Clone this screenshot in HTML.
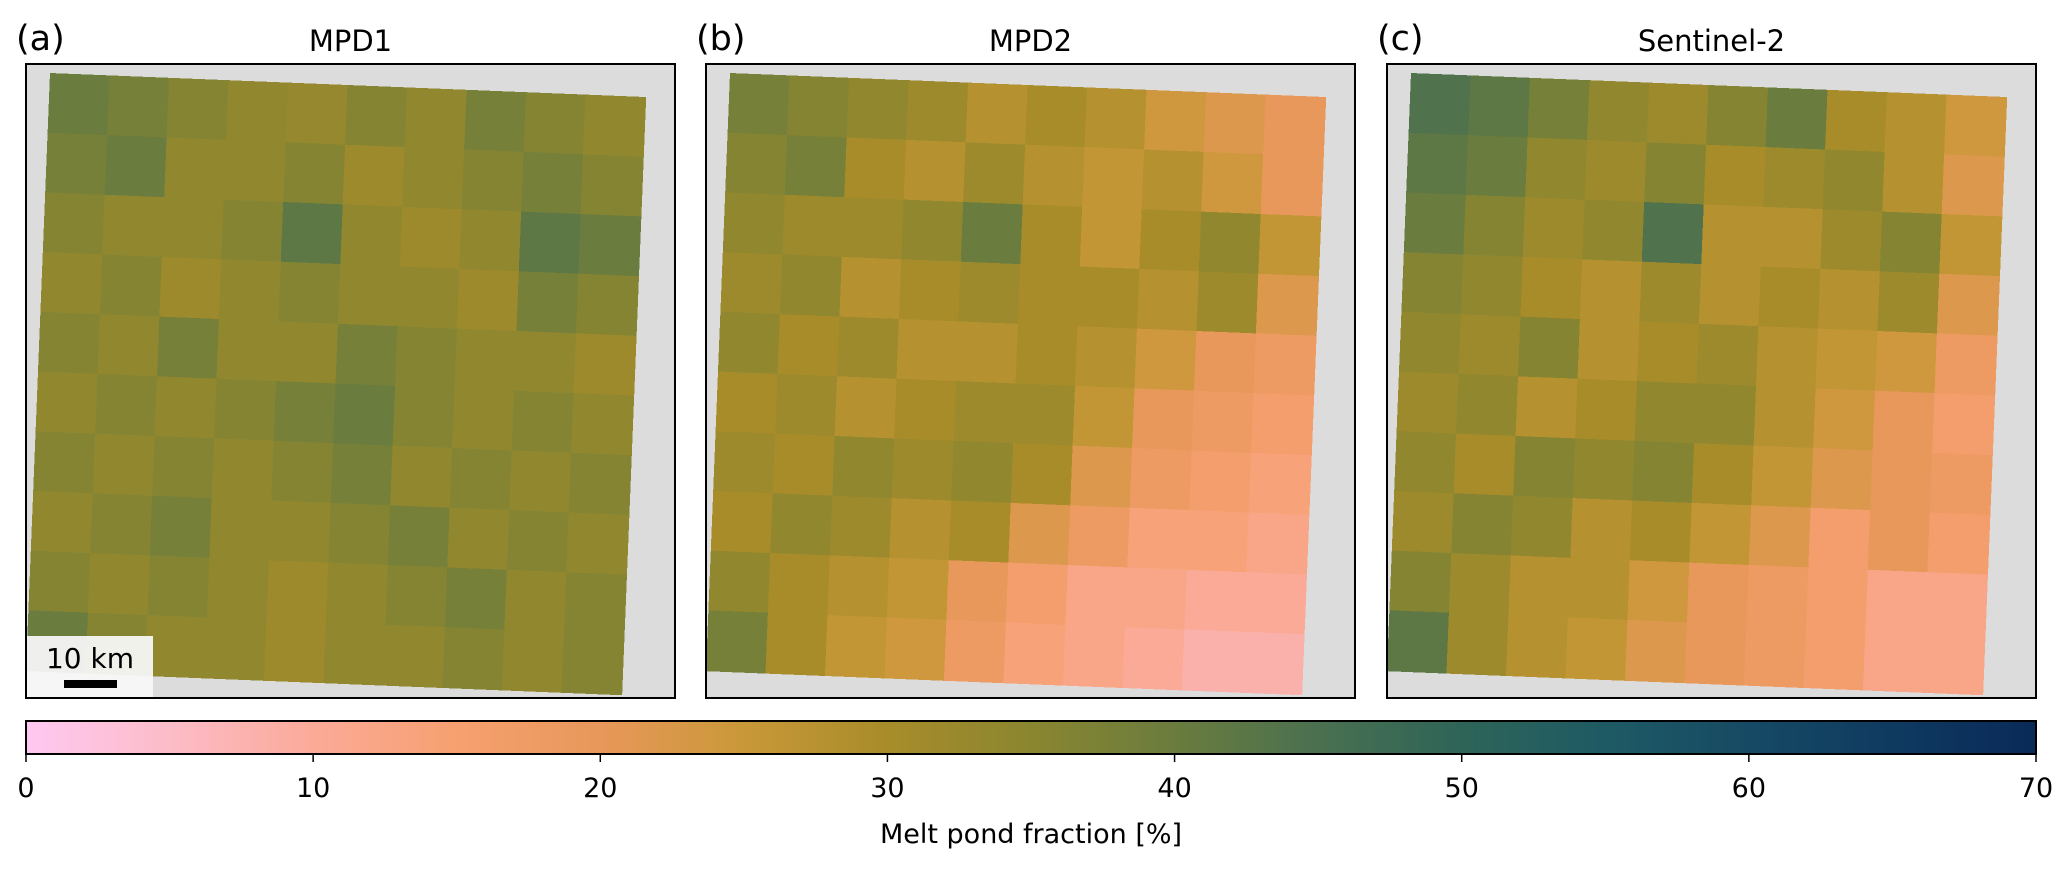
<!DOCTYPE html>
<html><head><meta charset="utf-8">
<style>
body{margin:0;background:#fff;}
svg{display:block;font-family:"DejaVu Sans","Liberation Sans",sans-serif;}
</style></head>
<body>
<svg id="fig" width="2067" height="872" viewBox="0 0 2067 872"></svg>
<script>
// ---- data ----
const panelTitles = ["MPD1", "MPD2", "Sentinel-2"];
const panelLetters = ["(a)", "(b)", "(c)"];
const gridA = [
[40,38,36,34,33,36,34,38,36,34],
[38,40,34,34,36,32,34,36,38,36],
[36,34,34,36,42,34,32,34,42,40],
[34,36,32,34,36,34,34,32,38,36],
[36,34,38,34,34,38,36,34,34,32],
[34,36,34,36,38,40,36,34,36,34],
[36,34,36,34,36,38,34,36,34,36],
[34,36,38,34,34,36,38,34,36,34],
[36,34,36,34,32,34,36,38,34,36],
[40,36,34,34,32,34,34,36,34,36]];
const gridB = [
[38,36,34,32,28,30,28,24,22,20],
[36,38,30,28,32,28,26,28,24,20],
[34,32,32,34,40,30,26,30,34,26],
[32,34,28,30,32,30,30,28,32,22],
[34,30,32,28,28,30,28,24,20,18],
[30,32,28,30,32,32,26,20,18,16],
[32,30,34,32,34,30,22,18,16,14],
[30,34,32,28,30,22,18,14,14,12],
[34,30,28,26,20,16,12,12,10,10],
[38,30,26,24,18,14,12,10,8,8]];
const gridC = [
[44,42,38,34,32,36,40,30,28,24],
[42,40,34,32,36,30,32,34,28,22],
[40,36,32,34,44,28,28,32,36,26],
[36,34,30,28,32,28,30,28,32,22],
[34,32,36,28,30,32,28,26,24,18],
[32,34,28,30,34,34,28,24,20,16],
[34,30,36,34,36,30,26,22,20,18],
[32,36,34,28,30,26,22,16,20,16],
[36,32,28,28,24,20,18,16,12,12],
[42,32,28,26,22,20,18,16,12,12]];
const grids = [gridA, gridB, gridC];
const cbTicks = [0,10,20,30,40,50,60,70];
const cbStops = ["#ffc8f2","#fcbcc8","#fbaa98","#f6a070","#e8985a","#c99838","#a88c2a","#8a8630","#6a7c3e","#4a7050","#2e6458","#1e5a64","#164a64","#0e3a60","#0a2a58"];
const vmin = 0, vmax = 70;

// ---- helpers ----
const NS = "http://www.w3.org/2000/svg";
const svg = document.getElementById("fig");
function mk(tag, attrs, parent){const e=document.createElementNS(NS,tag);for(const k in attrs)e.setAttribute(k,attrs[k]);(parent||svg).appendChild(e);return e;}
function hex(h){return [parseInt(h.slice(1,3),16),parseInt(h.slice(3,5),16),parseInt(h.slice(5,7),16)];}
function cmap(v){
  let t=(v-vmin)/(vmax-vmin); t=Math.max(0,Math.min(1,t));
  const p=t*(cbStops.length-1); const i=Math.min(Math.floor(p),cbStops.length-2); const f=p-i;
  const a=hex(cbStops[i]), b=hex(cbStops[i+1]);
  return "rgb("+a.map((x,j)=>Math.round(x+(b[j]-x)*f)).join(",")+")";
}

const boxX = [26, 706, 1387], boxY = 64, boxW = 649, boxH = 634;

for (let p=0;p<3;p++){
  const g = mk("g",{});
  
  
  const bx = boxX[p];
  const bg = mk("rect",{x:bx,y:boxY,width:boxW,height:boxH,fill:"#dcdcdc"},g);
  
  
  const map = mk("g",{transform:`matrix(595,24,-24,597,${bx+24},${boxY+9})`,"shape-rendering":"crispEdges"},g);
  
  
  const grid = grids[p], n = grid.length;
  for (let r=0;r<n;r++) for (let c=0;c<grid[r].length;c++){
    const cell = mk("rect",{x:c/n,y:r/n,width:1/n+0.002,height:1/n+0.002,fill:cmap(grid[r][c])},map);
    
    
  }
  const frame = mk("rect",{x:bx,y:boxY,width:boxW,height:boxH,fill:"none",stroke:"#000","stroke-width":2},g);
  
  
  const t = mk("text",{x:bx+boxW/2,y:51,"text-anchor":"middle","font-size":29,fill:"#000"},g);
  t.textContent = panelTitles[p];
  
  
  const l = mk("text",{x:bx-10,y:50,"font-size":35,fill:"#000"},g);
  l.textContent = panelLetters[p];
  
  
}

// scale bar
const sb = mk("g",{});


mk("rect",{x:27,y:636,width:126,height:61,fill:"#f7f7f7",opacity:0.95},sb);
const sbt = mk("text",{x:90,y:668,"text-anchor":"middle","font-size":28,fill:"#000"},sb);
sbt.textContent = "10 km";


mk("rect",{x:64,y:680,width:53,height:8,fill:"#000"},sb);

// colorbar
const cbX0 = 26, cbX1 = 2036, cbY = 721, cbH = 33;
const defs = mk("defs",{});
const lg = mk("linearGradient",{id:"cbg",x1:0,x2:1,y1:0,y2:0},defs);
cbStops.forEach((c,i)=>mk("stop",{offset:i/(cbStops.length-1),"stop-color":c},lg));
const cb = mk("rect",{x:cbX0,y:cbY,width:cbX1-cbX0,height:cbH,fill:"url(#cbg)",stroke:"#000","stroke-width":2});


function cx(v){return cbX0+(v-vmin)/(vmax-vmin)*(cbX1-cbX0);}
cbTicks.forEach(v=>{
  const tk = mk("line",{x1:cx(v),x2:cx(v),y1:cbY+cbH,y2:cbY+cbH+8,stroke:"#000","stroke-width":1.5});
  
  
  const tl = mk("text",{x:cx(v),y:797,"text-anchor":"middle","font-size":27,fill:"#000"});
  tl.textContent = v;
  
  
});
const cbl = mk("text",{x:(cbX0+cbX1)/2,y:843,"text-anchor":"middle","font-size":27,fill:"#000"});
cbl.textContent = "Melt pond fraction [%]";


</script>
</body></html>
